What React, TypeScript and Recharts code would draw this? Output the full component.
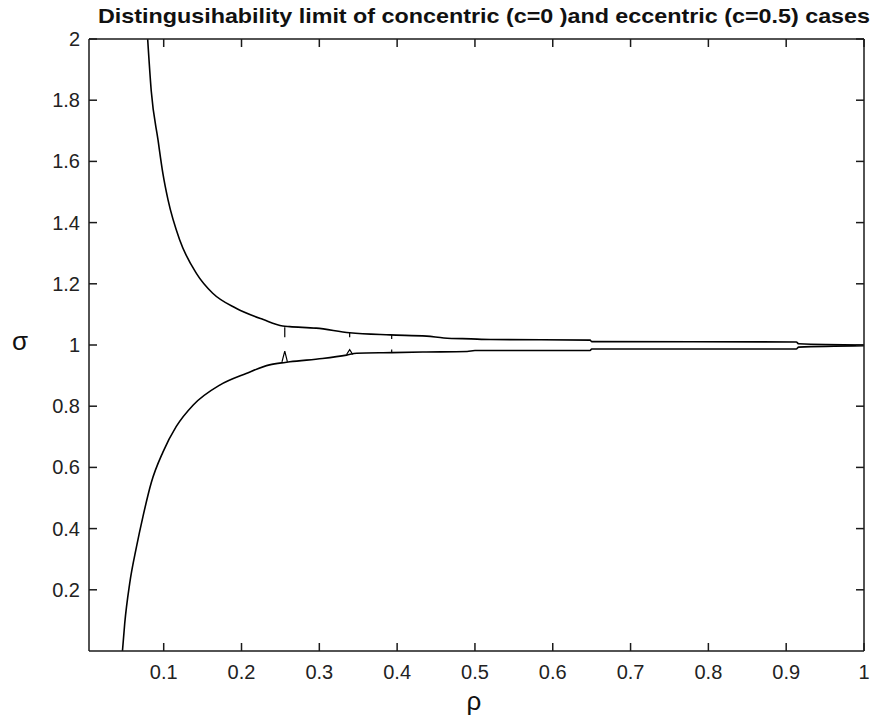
import { Line, LineChart, XAxis, YAxis } from "recharts"

// upper branch of the limit curve (rho, sigma)
const upperRho = [0.0794, 0.084, 0.0927, 0.099, 0.1055, 0.1206, 0.142, 0.163, 0.193, 0.228, 0.253, 0.262, 0.296, 0.339, 0.391, 0.438, 0.46, 0.495, 0.52, 0.648, 0.65, 0.913, 0.916, 1.0]
const upperSigma = [2.0, 1.83, 1.67, 1.56, 1.475, 1.343, 1.234, 1.169, 1.12, 1.083, 1.062, 1.06, 1.055, 1.04, 1.033, 1.029, 1.023, 1.02, 1.018, 1.016, 1.011, 1.01, 1.004, 1.0]

// lower branch
const lowerRho = [0.047, 0.0499, 0.0563, 0.065, 0.0734, 0.084, 0.099, 0.116, 0.138, 0.172, 0.206, 0.236, 0.256, 0.262, 0.304, 0.335, 0.348, 0.393, 0.433, 0.49, 0.5, 0.648, 0.65, 0.913, 0.916, 1.0]
const lowerSigma = [0.0, 0.09, 0.221, 0.34, 0.44, 0.55, 0.65, 0.733, 0.804, 0.869, 0.907, 0.935, 0.943, 0.945, 0.956, 0.967, 0.973, 0.975, 0.977, 0.979, 0.982, 0.982, 0.987, 0.987, 0.993, 0.998]

// small cusps between the branches (null = break)
const cuspRho = [0.2556, 0.2556, null, 0.252, 0.2556, 0.259, null, 0.339, 0.339, null, 0.335, 0.339, 0.343, null, 0.393, 0.393, null, 0.393, 0.393]
const cuspSigma = [1.058, 1.025, null, 0.945, 0.98, 0.945, null, 1.04, 1.025, null, 0.969, 0.985, 0.969, null, 1.033, 1.02, null, 0.975, 0.985]

const xTicks = [0.1, 0.2, 0.3, 0.4, 0.5, 0.6, 0.7, 0.8, 0.9, 1]
const yTicks = [0.2, 0.4, 0.6, 0.8, 1, 1.2, 1.4, 1.6, 1.8, 2]

const title = "Distingusihability limit of concentric (c=0 )and eccentric (c=0.5) cases"

const toPoints = (r: (number | null)[], s: (number | null)[]) =>
  r.map((x, i) => ({ rho: x, sigma: s[i] }))

const upper = toPoints(upperRho, upperSigma)
const lower = toPoints(lowerRho, lowerSigma)
const cusps = toPoints(cuspRho, cuspSigma)

const ink = "#1a1a1a"
const tickFont = "'Liberation Sans', Arial, sans-serif"

// ticks point inwards, like the matlab box
const BottomTick = (props: any) => {
  const { x, y, payload } = props
  return (
    <g>
      <path d={`M${x},${y}L${x},${y - 8}`} stroke={ink} strokeWidth={1.5} fill="none" />
      <text x={x} y={y + 28} textAnchor="middle" fontSize={20} fontFamily={tickFont} fill="#222">
        {String(payload.value)}
      </text>
    </g>
  )
}

const LeftTick = (props: any) => {
  const { x, y, payload } = props
  return (
    <g>
      <path d={`M${x},${y}L${x + 8},${y}`} stroke={ink} strokeWidth={1.5} fill="none" />
      <text x={x - 9} y={y + 7} textAnchor="end" fontSize={20} fontFamily={tickFont} fill="#222">
        {String(payload.value)}
      </text>
    </g>
  )
}

const TopTick = (props: any) => {
  const { x, y } = props
  return <path d={`M${x},${y}L${x},${y + 8}`} stroke={ink} strokeWidth={1.5} fill="none" />
}

const RightTick = (props: any) => {
  const { x, y } = props
  return <path d={`M${x},${y}L${x - 8},${y}`} stroke={ink} strokeWidth={1.5} fill="none" />
}

export default function App() {
  return (
    <div style={{ position: "absolute", left: 0, top: 0, width: 875, height: 717, background: "#fff" }}>
      <LineChart width={875} height={717} margin={{ top: 38, right: 10, bottom: 26, left: 29 }}>
        <XAxis
          xAxisId="b"
          dataKey="rho"
          type="number"
          domain={[0.004, 1]}
          ticks={xTicks}
          allowDataOverflow
          height={40}
          tickSize={0}
          tickMargin={0}
          tickLine={false}
          stroke={ink}
          strokeWidth={1.5}
          tick={BottomTick}
        />
        <XAxis
          xAxisId="t"
          orientation="top"
          dataKey="rho"
          type="number"
          domain={[0.004, 1]}
          ticks={xTicks}
          allowDataOverflow
          height={1}
          tickSize={0}
          tickMargin={0}
          tickLine={false}
          stroke={ink}
          strokeWidth={1.5}
          tick={TopTick}
        />
        <YAxis
          yAxisId="l"
          type="number"
          domain={[0, 2]}
          ticks={yTicks}
          allowDataOverflow
          width={60}
          tickSize={0}
          tickMargin={0}
          tickLine={false}
          stroke={ink}
          strokeWidth={1.5}
          tick={LeftTick}
        />
        <YAxis
          yAxisId="r"
          orientation="right"
          type="number"
          domain={[0, 2]}
          ticks={yTicks}
          allowDataOverflow
          width={1}
          tickSize={0}
          tickMargin={0}
          tickLine={false}
          stroke={ink}
          strokeWidth={1.5}
          tick={RightTick}
        />
        <Line data={upper} xAxisId="b" yAxisId="l" dataKey="sigma" type="monotone" stroke="#000" strokeWidth={1.6} dot={false} isAnimationActive={false} />
        <Line data={lower} xAxisId="b" yAxisId="l" dataKey="sigma" type="monotone" stroke="#000" strokeWidth={1.6} dot={false} isAnimationActive={false} />
        <Line data={cusps} xAxisId="b" yAxisId="l" dataKey="sigma" type="linear" stroke="#000" strokeWidth={1.2} dot={false} connectNulls={false} isAnimationActive={false} />
      </LineChart>
      <svg width={875} height={717} style={{ position: "absolute", left: 0, top: 0, pointerEvents: "none" }}>
        <text x={484} y={23} textAnchor="middle" fontSize={21} fontWeight="bold" fontFamily={tickFont} fill="#111" textLength={772} lengthAdjust="spacingAndGlyphs">
          {title}
        </text>
        <text x={20} y={350} textAnchor="middle" fontSize={26} fontFamily={tickFont} fill="#111">
          σ
        </text>
        <text x={474} y={710} textAnchor="middle" fontSize={26} fontFamily={tickFont} fill="#111">
          ρ
        </text>
      </svg>
    </div>
  )
}
